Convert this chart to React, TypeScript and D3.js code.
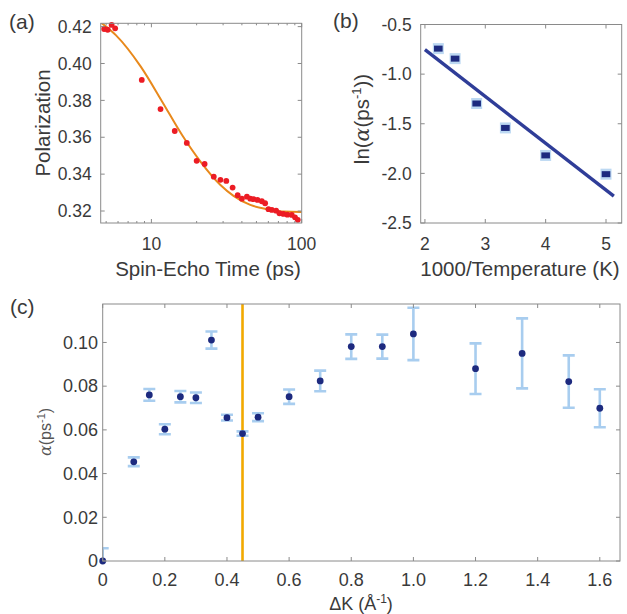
import React from "react";
import * as d3 from "d3";

// (a) spin-echo decay
const echoTime = [4.85, 5.12, 5.44, 5.74, 8.63, 11.5, 14.3, 17.2, 20.0, 22.6, 26.0, 28.8, 31.5, 34.7, 37.5, 40.0, 43.2, 45.5, 47.8, 50.8, 54.3, 57.1, 60.1, 63.3, 67.6, 71.1, 75.5, 80.3, 85.9, 90.3, 94.2];
const polarization = [0.4187, 0.4183, 0.4209, 0.4191, 0.3911, 0.3753, 0.3634, 0.3569, 0.3472, 0.3455, 0.3386, 0.3369, 0.3363, 0.3327, 0.3286, 0.3267, 0.3278, 0.3267, 0.3264, 0.326, 0.3253, 0.3242, 0.321, 0.3206, 0.3202, 0.3188, 0.3184, 0.318, 0.3179, 0.3166, 0.3152];
const fitTime = [4.6, 5.8, 8.5, 11.8, 16, 21.2, 28.8, 35.2, 45.5, 58.7, 75.5, 100];
const fitPolarization = [0.4223, 0.4154, 0.3983, 0.3793, 0.3612, 0.3468, 0.3341, 0.3282, 0.3233, 0.321, 0.3197, 0.3195];
const polTicks = [0.32, 0.34, 0.36, 0.38, 0.4, 0.42];
const timeTicks = [10, 100];

// (b) Arrhenius plot
const invTemperature = [2.222, 2.5, 2.857, 3.333, 4, 5];
const lnAlpha = [-0.743, -0.844, -1.296, -1.542, -1.819, -2.008];
const arrFitX = [2, 5.13];
const arrFitY = [-0.753, -2.23];
const lnTicks = [-2.5, -2, -1.5, -1, -0.5];
const invTTicks = [2, 3, 4, 5];

// (c) rate vs momentum transfer
const deltaK = [0, 0.1, 0.15, 0.2, 0.25, 0.3, 0.35, 0.4, 0.45, 0.5, 0.6, 0.7, 0.8, 0.9, 1.0, 1.2, 1.35, 1.5, 1.6];
const alphaRate = [0, 0.0454, 0.076, 0.0603, 0.0752, 0.0747, 0.1011, 0.0656, 0.0583, 0.0658, 0.0752, 0.0824, 0.0981, 0.0981, 0.1039, 0.088, 0.095, 0.0821, 0.0699];
const alphaError = [0.0058, 0.002, 0.0027, 0.0023, 0.0026, 0.0024, 0.0039, 0.0013, 0.001, 0.0018, 0.0033, 0.0047, 0.0056, 0.0055, 0.012, 0.0116, 0.016, 0.012, 0.0087];
const markedK = 0.45;
const alphaTicks = [0, 0.02, 0.04, 0.06, 0.08, 0.1];
const kTicks = [0, 0.2, 0.4, 0.6, 0.8, 1.0, 1.2, 1.4, 1.6];

const FONT = "'Liberation Sans', Arial, Helvetica, sans-serif";
const TEXT = "#3a3a3a";
const AXIS = "#8a8a8a";
const NAVY = "#1d2a7f";
const LIGHT = "#a8cdef";

type Scale = (v: number) => number;

// box with inward ticks on all four sides, matlab style
const Frame = ({ x, y, xt, yt, minor = [] as number[] }: { x: any; y: any; xt: number[]; yt: number[]; minor?: number[] }) => {
  const [x0, x1] = x.range();
  const [y0, y1] = y.range(); // y0 bottom, y1 top
  const L = 4;
  return (
    <g stroke={AXIS} strokeWidth={1} fill="none">
      <rect x={x0} y={y1} width={x1 - x0} height={y0 - y1} />
      {xt.map((t) => (
        <g key={"x" + t}>
          <line x1={x(t)} x2={x(t)} y1={y0} y2={y0 - L} />
          <line x1={x(t)} x2={x(t)} y1={y1} y2={y1 + L} />
        </g>
      ))}
      {minor.map((t) => (
        <g key={"m" + t}>
          <line x1={x(t)} x2={x(t)} y1={y0} y2={y0 - 2} />
          <line x1={x(t)} x2={x(t)} y1={y1} y2={y1 + 2} />
        </g>
      ))}
      {yt.map((t) => (
        <g key={"y" + t}>
          <line x1={x0} x2={x0 + L} y1={y(t)} y2={y(t)} />
          <line x1={x1} x2={x1 - L} y1={y(t)} y2={y(t)} />
        </g>
      ))}
    </g>
  );
};

const PanelA = () => {
  const x = d3.scaleLog().domain([4.6, 100]).range([100.7, 301.7]);
  const y = d3.scaleLinear().domain([0.3135, 0.4218]).range([223, 23.3]);
  const minor = x.ticks().filter((t) => !timeTicks.includes(t));
  const fit = d3.line<number>().x((d) => x(d)).y((_, i) => y(fitPolarization[i])).curve(d3.curveMonotoneX);
  return (
    <g>
      <defs>
        <clipPath id="clipA">
          <rect x={100.7} y={23.3} width={201} height={199.7} />
        </clipPath>
      </defs>
      <g clipPath="url(#clipA)">
        <path d={fit(fitTime) || ""} fill="none" stroke="#e8891c" strokeWidth={2} />
      </g>
      {echoTime.map((t, i) => (
        <circle key={i} cx={x(t)} cy={y(polarization[i])} r={2.9} fill="#ec1c24" />
      ))}
      <Frame x={x} y={y} xt={timeTicks} yt={polTicks} minor={minor} />
      <g fontFamily={FONT} fill={TEXT} fontSize={17.5}>
        {polTicks.map((t) => (
          <text key={t} x={91.7} y={y(t)} dy="0.35em" textAnchor="end">{t.toFixed(2)}</text>
        ))}
        {timeTicks.map((t) => (
          <text key={t} x={x(t)} y={250} textAnchor="middle">{t}</text>
        ))}
        <text x={208} y={276} fontSize={20.5} textAnchor="middle">Spin-Echo Time (ps)</text>
        <text transform="translate(50,123) rotate(-90)" fontSize={20.5} textAnchor="middle">Polarization</text>
        <text x={9} y={29} fontSize={21}>(a)</text>
      </g>
    </g>
  );
};

const PanelB = () => {
  const x = d3.scaleLinear().domain([1.93, 5.26]).range([420.7, 621.7]);
  const y = d3.scaleLinear().domain([-2.5, -0.5]).range([223, 24.5]);
  return (
    <g>
      <line x1={x(arrFitX[0])} y1={y(arrFitY[0])} x2={x(arrFitX[1])} y2={y(arrFitY[1])} stroke="#2f3d98" strokeWidth={3.4} />
      {invTemperature.map((t, i) => (
        <g key={i}>
          <rect x={x(t) - 5.5} y={y(lnAlpha[i]) - 5.5} width={11} height={11} fill="#bcd8f2" />
          <rect x={x(t) - 4.3} y={y(lnAlpha[i]) - 3} width={8.6} height={6} fill={NAVY} />
        </g>
      ))}
      <Frame x={x} y={y} xt={invTTicks} yt={lnTicks} />
      <g fontFamily={FONT} fill={TEXT} fontSize={17.5}>
        {lnTicks.map((t) => (
          <text key={t} x={411.7} y={y(t)} dy="0.35em" textAnchor="end">{t.toFixed(1)}</text>
        ))}
        {invTTicks.map((t) => (
          <text key={t} x={x(t)} y={250} textAnchor="middle">{t}</text>
        ))}
        <text x={520} y={276} fontSize={20.5} textAnchor="middle">1000/Temperature (K)</text>
        <text transform="translate(369,119) rotate(-90)" fontSize={20.5} textAnchor="middle">
          ln(<tspan fontFamily="'DejaVu Serif', serif" fontStyle="italic">α</tspan>(ps<tspan dy={-8} fontSize={13}>-1</tspan><tspan dy={8}>))</tspan>
        </text>
        <text x={333} y={28} fontSize={21}>(b)</text>
      </g>
    </g>
  );
};

const PanelC = () => {
  const x = d3.scaleLinear().domain([0, 1.665]).range([102.7, 620]);
  const y = d3.scaleLinear().domain([0, 0.1176]).range([561, 304]);
  const cap = 6;
  return (
    <g>
      <defs>
        <clipPath id="clipC">
          <rect x={102.7} y={304} width={517.3} height={257} />
        </clipPath>
      </defs>
      <line x1={x(markedK)} x2={x(markedK)} y1={y(0)} y2={y(0.1176)} stroke="#f2a900" strokeWidth={2.6} />
      <g clipPath="url(#clipC)" stroke={LIGHT} strokeWidth={2.6}>
        {deltaK.map((k, i) => {
          const hi = y(alphaRate[i] + alphaError[i]);
          const lo = y(alphaRate[i] - alphaError[i]);
          return (
            <g key={i}>
              <line x1={x(k)} x2={x(k)} y1={hi} y2={lo} />
              <line x1={x(k) - cap} x2={x(k) + cap} y1={hi} y2={hi} />
              <line x1={x(k) - cap} x2={x(k) + cap} y1={lo} y2={lo} />
            </g>
          );
        })}
      </g>
      {deltaK.map((k, i) => (
        <circle key={i} cx={x(k)} cy={y(alphaRate[i])} r={3.4} fill={NAVY} />
      ))}
      <Frame x={x} y={y} xt={kTicks} yt={alphaTicks} />
      <g fontFamily={FONT} fill={TEXT} fontSize={18}>
        {alphaTicks.map((t) => (
          <text key={t} x={98} y={y(t)} dy="0.35em" textAnchor="end">{t === 0 ? "0" : t.toFixed(2)}</text>
        ))}
        {kTicks.map((t) => (
          <text key={t} x={x(t)} y={586} textAnchor="middle">{t === 0 ? "0" : t.toFixed(1)}</text>
        ))}
        <text x={361} y={610} fontSize={18} textAnchor="middle">
          ΔK (Å<tspan dy={-7} fontSize={12}>-1</tspan><tspan dy={7}>)</tspan>
        </text>
        <text transform="translate(51,432) rotate(-90)" fontSize={16} textAnchor="middle" fill="#555">
          <tspan fontFamily="'DejaVu Serif', serif" fontStyle="italic">α</tspan>(ps<tspan dy={-6} fontSize={11}>-1</tspan><tspan dy={6}>)</tspan>
        </text>
        <text x={10} y={314} fontSize={21}>(c)</text>
      </g>
    </g>
  );
};

export default function App() {
  return (
    <svg width={627} height={614} style={{ position: "absolute", left: 0, top: 0, background: "#fff" }}>
      <PanelA />
      <PanelB />
      <PanelC />
    </svg>
  );
}
